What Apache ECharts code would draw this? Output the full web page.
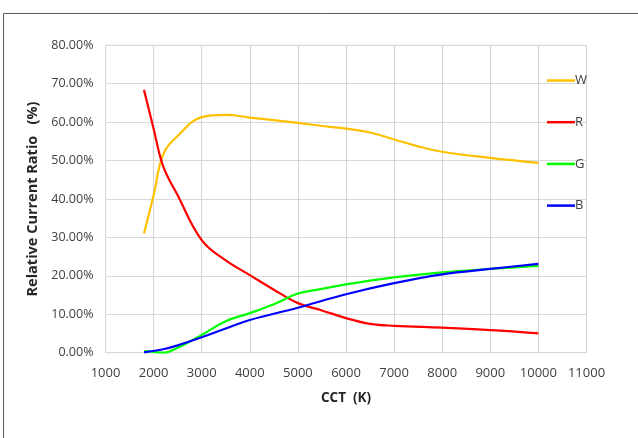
<!DOCTYPE html>
<html><head><meta charset="utf-8">
<script src="https://cdn.jsdelivr.net/npm/echarts@6/dist/echarts.min.js"></script>
<style>html,body{margin:0;padding:0;background:#fff}#c{width:638px;height:438px}</style>
</head><body><div id="c"></div>
<script>
const seriesNames = ['W', 'R', 'G', 'B'];
const wCCT = [1800, 2000, 2200, 2500, 3000, 3500, 4000, 5000, 5500, 6000, 6500, 7000, 7500, 8000, 9000, 10000];
const wVals = [31.0, 41.0, 51.6, 56.4, 61.3, 61.9, 61.2, 59.8, 59.0, 58.3, 57.3, 55.5, 53.7, 52.3, 50.7, 49.4];
const rCCT = [1800, 2000, 2200, 2500, 3000, 3500, 4000, 4500, 5000, 5500, 6000, 6500, 7000, 8000, 9000, 10000];
const rVals = [68.4, 58.3, 48.5, 41.0, 29.3, 24.0, 20.2, 16.4, 12.9, 11.0, 9.0, 7.5, 7.0, 6.5, 5.9, 5.05];
const gCCT = [1800, 2000, 2200, 2500, 3000, 3500, 4000, 4500, 5000, 5500, 6000, 7000, 8000, 9000, 10000];
const gVals = [0.4, 0.2, 0.0, 1.3, 4.6, 8.2, 10.3, 12.6, 15.4, 16.6, 17.8, 19.6, 20.9, 21.8, 22.6];
const bCCT = [1800, 2200, 2500, 3000, 3500, 4000, 5000, 6000, 7000, 8000, 9000, 10000];
const bVals = [0.1, 0.9, 1.9, 4.0, 6.3, 8.5, 11.7, 15.2, 18.1, 20.4, 21.8, 23.1];
const colors = ['#FFC000', '#FF0000', '#00FF00', '#0000FF'];

function pairs(xs, ys) { return xs.map((x, i) => [x, ys[i]]); }
const datasets = [pairs(wCCT, wVals), pairs(rCCT, rVals), pairs(gCCT, gVals), pairs(bCCT, bVals)];

const chart = echarts.init(document.getElementById('c'), null, {renderer: 'canvas'});
const font = '"Open Sans", Lato, sans-serif';
chart.setOption({
  animation: false,
  textStyle: {fontFamily: font},
  graphic: [{type: 'rect', shape: {x: 3.5, y: 13.5, width: 700, height: 500},
    style: {fill: 'none', stroke: '#595959', lineWidth: 1}, silent: true}],
  grid: {left: 105.5, right: 51.5, top: 45.3, bottom: 85.3, show: true, borderColor: '#d4d4d4', borderWidth: 1},
  legend: {
    orient: 'vertical', left: 542, top: 69, itemWidth: 28, itemHeight: 14, itemGap: 28.7,
    icon: 'path://M0,0 L28,0 L28,2.5 L0,2.5 Z',
    textStyle: {fontSize: 13, color: '#404040', fontFamily: font, padding: [0, 0, 0, -5]},
    data: seriesNames
  },
  xAxis: {
    type: 'value', min: 1000, max: 11000, interval: 1000,
    name: 'CCT  (K)', nameLocation: 'middle', nameGap: 38,
    nameTextStyle: {fontSize: 13.5, fontWeight: 'bold', color: '#262626', fontFamily: font},
    axisLine: {show: false}, axisTick: {show: false},
    axisLabel: {fontSize: 13, color: '#404040', margin: 14, formatter: v => String(v)},
    splitLine: {show: true, lineStyle: {color: '#d4d4d4', width: 1}}
  },
  yAxis: {
    type: 'value', min: 0, max: 80, interval: 10,
    name: 'Relative Current Ratio   (%)', nameLocation: 'middle', nameGap: 61,
    nameTextStyle: {fontSize: 14.5, fontWeight: 'bold', color: '#262626', fontFamily: font},
    axisLine: {show: false}, axisTick: {show: false},
    axisLabel: {fontSize: 12.5, color: '#404040', margin: 12, formatter: v => v.toFixed(2) + '%'},
    splitLine: {show: true, lineStyle: {color: '#d9d9d9', width: 1}}
  },
  series: seriesNames.map((n, i) => ({
    name: n, type: 'line', data: datasets[i], smooth: 0.4, symbol: 'none',
    lineStyle: {color: colors[i], width: 2.2}, itemStyle: {color: colors[i]}
  }))
});
</script></body></html>
